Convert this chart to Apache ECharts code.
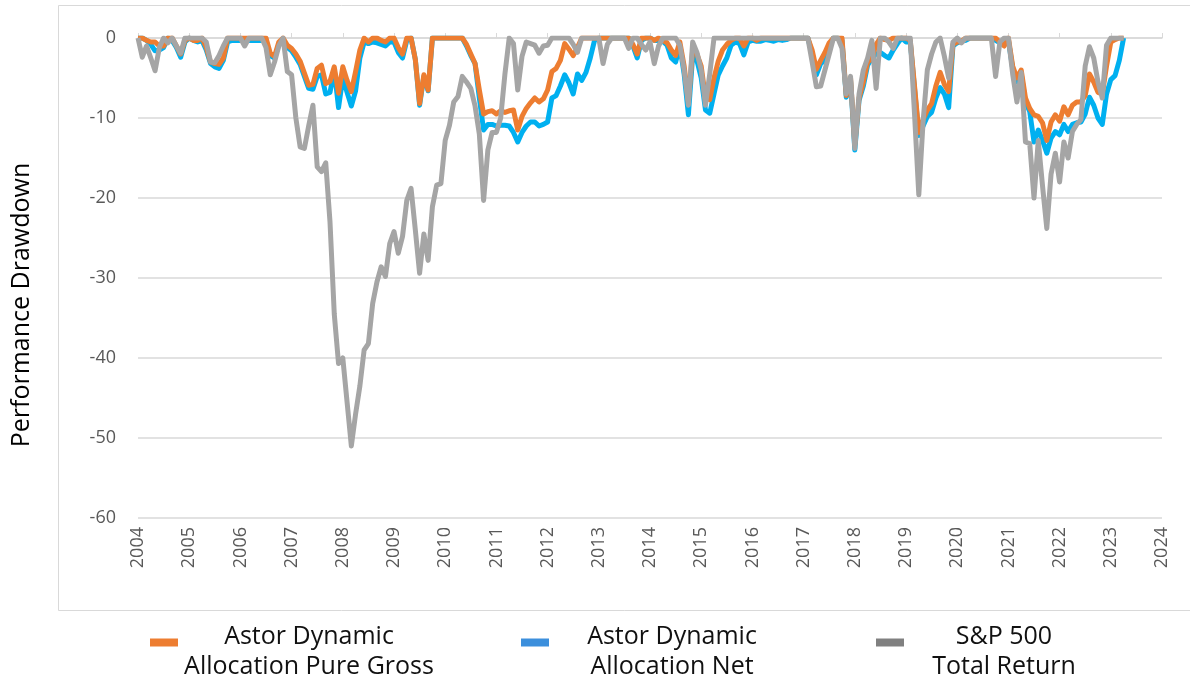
<!DOCTYPE html>
<html>
<head>
<meta charset="utf-8">
<script src="https://cdn.jsdelivr.net/npm/echarts@6/dist/echarts.min.js"></script>
<style>
  html, body { margin: 0; padding: 0; background: #fff; }
  #chart { width: 1190px; height: 680px; }
</style>
</head>
<body>
<div id="chart"></div>
<script>
// monthly drawdowns (%), Jan 2004 .. Apr 2023
const gross = [
  0, 0, -0.3, -0.5, -0.5, -1, -1, 0, 0, -1, -2, -0.3, // 2004
  0, -0.3, -0.3, 0, -1.2, -3, -3.2, -3.3, -2.5, 0, 0, 0, // 2005
  0, 0, 0, 0, 0, 0, 0, -1.9, -2.3, -0.5, 0, -0.9, // 2006
  -1.3, -2, -2.9, -4.4, -5.9, -5.8, -3.8, -3.4, -5.7, -5.4, -3.6, -6.9, // 2007
  -3.6, -5.3, -6.7, -4.2, -1.5, 0, -0.5, 0, 0, -0.3, -0.5, 0, // 2008
  0, -1.2, -2, 0, 0, -2.7, -8.2, -4.6, -6.5, 0, 0, 0, // 2009
  0, 0, 0, 0, 0, -0.8, -2, -3.2, -6.5, -9.5, -9.2, -9.1, // 2010
  -9.5, -9.1, -9.3, -9.1, -9, -11.5, -9.8, -8.8, -8.1, -7.5, -8, -7.6, // 2011
  -6.5, -4.2, -3.8, -2.8, -0.7, -1.4, -2.2, -1.2, 0, 0, 0, 0, // 2012
  0, 0, 0, 0, 0, 0, 0, 0, -0.8, -2, 0, 0, // 2013
  0, -0.3, 0, -0.3, -0.6, -1.5, -2.2, -0.5, -3.5, -7.9, -1.5, -2, // 2014
  -3.5, -7.5, -7.7, -5, -2.9, -1.5, -0.8, -0.3, 0, 0, -1, 0, // 2015
  0, -0.3, 0, 0, 0, 0, 0, 0, 0, 0, 0, 0, // 2016
  0, 0, -1.5, -3.9, -2.8, -1.8, -0.6, 0, 0, 0, -7.2, -5, // 2017
  -13.3, -7.5, -5.5, -3, -2.6, -0.8, 0, -0.2, -0.3, 0, 0, 0, // 2018
  0, -0.3, -6, -11.8, -10.2, -9, -8.2, -6, -4.3, -5.8, -6.7, -0.8, // 2019
  -0.5, -0.4, 0, 0, 0, 0, 0, 0, 0, 0, -0.5, -1, // 2020
  0, -3.5, -5, -4, -7.5, -8.8, -9.6, -9.8, -10.6, -12.8, -10.5, -9.6, // 2021
  -10.4, -8.6, -9.6, -8.4, -8, -8, -7.2, -4.5, -5.5, -6.8, -7, -3.5, // 2022
  -0.5, -0.2, 0, 0 // 2023
];

const net = [
  0, 0, -0.3, -0.8, -1.6, -1.5, -1.2, 0, -0.3, -1.2, -2.4, -0.5, // 2004
  0, -0.3, -0.5, -0.3, -1.5, -3.2, -3.6, -3.8, -2.8, -0.5, -0.3, -0.3, // 2005
  -0.3, -0.3, -0.3, -0.3, -0.3, -0.3, -0.5, -2.2, -2.5, -0.8, -0.3, -1.2, // 2006
  -1.6, -2.4, -3.3, -4.8, -6.3, -6.4, -4.8, -4.6, -7, -6.8, -4, -8.7, // 2007
  -5, -6.8, -8.5, -6.6, -2.5, -0.5, -0.7, -0.5, -0.6, -0.8, -1, -0.5, // 2008
  -0.5, -1.8, -2.5, -0.3, 0, -2.7, -8.4, -4.8, -6.6, 0, 0, 0, // 2009
  0, 0, 0, 0, 0, -1, -2.2, -3.2, -7.5, -11.5, -10.8, -10.8, // 2010
  -11, -10.9, -10.9, -11, -11.8, -13, -11.8, -11, -10.5, -10.5, -11, -10.8, // 2011
  -10.5, -7.5, -7.2, -6, -4.6, -5.6, -7, -4.5, -5.3, -4.3, -2.5, -0.3, // 2012
  0, 0, 0, 0, 0, 0, 0, 0, -1, -2.5, -0.3, 0, // 2013
  0, -0.3, -0.3, -0.4, -0.9, -2.5, -3, -1, -4.5, -9.6, -2.2, -2.8, // 2014
  -5, -9, -9.4, -7, -4.6, -3.5, -2.5, -0.9, -0.5, -0.7, -2.1, -0.5, // 2015
  -0.3, -0.4, -0.4, -0.2, -0.3, -0.4, -0.2, -0.3, -0.2, 0, 0, 0, // 2016
  0, 0, -2, -4.6, -3.2, -2.8, -1, 0, 0, -0.3, -7.4, -5.3, // 2017
  -14, -7.8, -6, -3.4, -2.5, -2, -1.8, -2.2, -2.5, -1.5, -0.7, 0, // 2018
  -0.5, -0.5, -6.3, -12.2, -11, -9.8, -9.3, -7.5, -6.2, -7, -8.7, -1, // 2019
  -0.6, -0.4, -0.3, 0, 0, 0, 0, 0, 0, -0.3, -0.6, -0.8, // 2020
  -0.3, -3.8, -5.5, -4.5, -8, -9.2, -13, -11.5, -12.8, -14.4, -12.5, -11.7, // 2021
  -12.1, -10.8, -11.7, -10.8, -10.6, -10.5, -9.5, -7.4, -8.4, -10, -10.8, -7, // 2022
  -5.2, -4.7, -2.8, 0 // 2023
];

const sp500 = [
  0, -2.4, -1, -2.5, -4.1, -1.2, 0, -0.6, 0, -1, -1.9, 0, // 2004
  0, 0, 0, 0, -0.5, -3, -3.1, -2.2, -1, 0, 0, 0, // 2005
  0, -1, 0, 0, 0, 0, -1.2, -4.6, -3, -1, 0, -4.2, // 2006
  -4.6, -10, -13.6, -13.8, -11, -8.4, -16.1, -16.7, -15.6, -23, -34.5, -40.7, // 2007
  -40, -45.5, -51, -47, -43.5, -39, -38.2, -33.2, -30.5, -28.6, -29.8, -25.7, // 2008
  -24.2, -26.9, -24.8, -20.3, -18.8, -24, -29.4, -24.5, -27.8, -21.1, -18.4, -18.2, // 2009
  -12.8, -10.9, -8, -7.3, -4.8, -5.5, -6.3, -8.5, -12, -20.3, -14, -11.8, // 2010
  -11.8, -10, -4.5, 0, -0.7, -6.5, -2.3, -0.5, -0.7, -0.9, -1.9, -1, // 2011
  -0.9, 0, 0, 0, 0, 0, -0.8, -1.8, 0, 0, 0, 0, // 2012
  0, -3.2, -0.8, 0, 0, 0, 0, -1.3, 0, 0, -0.8, -1.5, // 2013
  -0.5, -3.2, -1, 0, 0, 0, 0, -0.9, -4, -8.4, -0.5, -1.8, // 2014
  -4, -8.4, -4.5, 0, 0, 0, 0, 0, 0, 0, 0, 0, // 2015
  0, 0, 0, 0, 0, 0, 0, 0, 0, 0, 0, 0, // 2016
  0, 0, -3, -6.1, -6, -4, -2, 0, 0, -1.3, -7, -4.8, // 2017
  -13.8, -7, -4, -2.5, -0.3, -6.3, 0, 0, -0.5, -1.3, 0, 0, // 2018
  0, 0, -9.5, -19.6, -10.5, -4, -2, -0.5, 0, -2.3, -5, -0.5, // 2019
  0, -0.6, 0, 0, 0, 0, 0, 0, 0, -4.8, -0.5, 0, // 2020
  0, -4.5, -8, -4.3, -13, -13.2, -20, -12.8, -18.5, -23.8, -17, -14.4, // 2021
  -18, -13, -15, -11.7, -10.8, -10.2, -3.5, -1.1, -2.5, -5.5, -7.5, -0.9, // 2022
  0, 0, 0, 0 // 2023
];

const seriesNames = ['Astor Dynamic Allocation Pure Gross', 'Astor Dynamic Allocation Net', 'S&P 500 Total Return'];
const legendLines = [
  ['Astor Dynamic', 'Allocation Pure Gross'],
  ['Astor Dynamic', 'Allocation Net'],
  ['S&P 500', 'Total Return']
];
const lineColors = ['#ED7D31', '#00B0F0', '#A5A5A5'];
const legendColors = ['#ED7D31', '#3C8FDC', '#808080'];

// month positions as decimal years starting Jan 2004
const startYear = 2004;
function withDates(values) {
  return values.map((v, i) => [startYear + i / 12, v]);
}

const chart = echarts.init(document.getElementById('chart'));
const font = '"Open Sans", "Noto Sans", sans-serif';
const richKeys = ['g', 'n', 's'];
const legendText = {
  fontFamily: font,
  fontSize: 25,
  lineHeight: 30,
  color: '#111',
  align: 'center'
};

const option = {
  animation: false,
  backgroundColor: '#fff',
  graphic: [{
    type: 'rect',
    shape: { x: 58.5, y: 5.5, width: 1140, height: 605 },
    style: { fill: null, stroke: '#d9d9d9', lineWidth: 1 },
    silent: true
  }, {
    type: 'text',
    x: 22,
    y: 305,
    rotation: Math.PI / 2,
    style: {
      text: 'Performance Drawdown',
      fontFamily: font,
      fontSize: 25,
      fill: '#000',
      align: 'center',
      verticalAlign: 'middle',
      textAlign: 'center',
      textVerticalAlign: 'middle'
    }
  }],
  grid: {
    left: 138,
    right: 28,
    top: 38,
    bottom: 162
  },
  legend: {
    top: 619,
    left: 145,
    // swatch sits in the upper part of its box so it lines up with the first text line
    icon: 'path://M0,0L28,0L28,8L0,8Z M0,26',
    itemWidth: 28,
    itemHeight: 26,
    itemGap: 86,
    selectedMode: false,
    data: seriesNames.map((n, i) => ({
      name: n,
      itemStyle: { color: legendColors[i] }
    })),
    formatter: name => {
      const i = seriesNames.indexOf(name);
      return legendLines[i].map(l => '{' + richKeys[i] + '|' + l + '}').join('\n');
    },
    textStyle: {
      rich: {
        g: Object.assign({ width: 252 }, legendText),
        n: Object.assign({ width: 236 }, legendText),
        s: Object.assign({ width: 190 }, legendText)
      }
    }
  },
  xAxis: [{
    type: 'value',
    min: 2004,
    max: 2024,
    interval: 1,
    position: 'bottom',
    axisLine: { show: false },
    axisTick: { show: false },
    splitLine: { show: false },
    axisLabel: {
      rotate: 90,
      color: '#595959',
      fontFamily: font,
      fontSize: 18,
      margin: 9,
      formatter: v => String(v)
    }
  }, {
    type: 'value',
    min: 2004,
    max: 2024,
    interval: 1,
    position: 'top',
    axisLine: { show: true, lineStyle: { color: '#d9d9d9', width: 1.5 } },
    axisTick: { show: true, length: 5, lineStyle: { color: '#d9d9d9' } },
    axisLabel: { show: false },
    splitLine: { show: false }
  }],
  yAxis: {
    type: 'value',
    min: -60,
    max: 0,
    interval: 10,
    axisLine: { show: false },
    axisTick: { show: false },
    splitLine: { lineStyle: { color: '#d9d9d9', width: 1.5 } },
    axisLabel: {
      color: '#595959',
      fontFamily: font,
      fontSize: 18,
      margin: 22
    }
  },
  series: [
    { data: withDates(gross), z: 3 },
    { data: withDates(net), z: 2 },
    { data: withDates(sp500), z: 4 }
  ].map((s, i) => ({
    name: seriesNames[i],
    type: 'line',
    xAxisIndex: 0,
    showSymbol: false,
    z: s.z,
    data: s.data,
    color: legendColors[i],
    lineStyle: { color: lineColors[i], width: 5, join: 'round' }
  }))
};

chart.setOption(option);
</script>
</body>
</html>
